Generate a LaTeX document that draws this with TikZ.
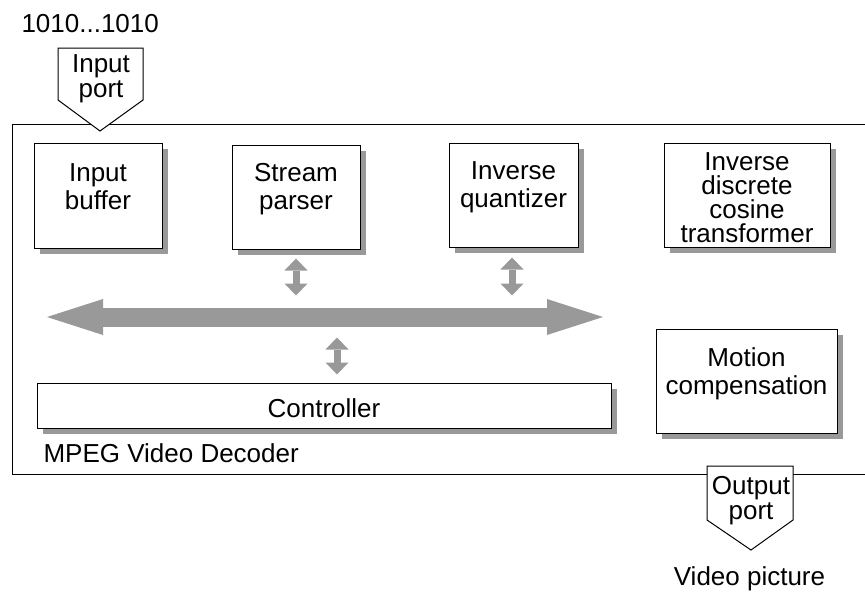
\documentclass[tikz,border=0pt]{standalone}
\usepackage{fontspec}
\setmainfont{Liberation Sans}
\usetikzlibrary{shadows,arrows.meta}
\definecolor{busgray}{RGB}{153,153,153}

\begin{document}
\begin{tikzpicture}[x=1pt,y=-1pt,line width=1pt,
  lbl/.style={align=center,inner sep=0pt,font=\fontsize{26}{28}\selectfont},
  unit/.style={draw,fill=white,inner sep=0pt,
    drop shadow={shadow xshift=6pt,shadow yshift=-6pt,fill=busgray,opacity=1}},
  port/.style={draw,fill=white},
  bus/.style={busgray,line width=19pt,
    {Triangle[width=36pt,length=56pt,line width=0pt]}-{Triangle[width=36pt,length=56pt,line width=0pt]}},
  link/.style={busgray,line width=7pt,
    {Triangle[width=23pt,length=12pt,line width=0pt]}-{Triangle[width=23pt,length=12pt,line width=0pt]}}]
\useasboundingbox (0,0) rectangle (865,592);
% decoder frame, open at the right
\draw (866,124) -- (12,124) -- (12,474) -- (866,474);
\node[unit,minimum width=128pt,minimum height=105pt,
  label={[lbl,yshift=9pt]center:{Input\\buffer}}] (buf) at (98,195.5) {};
\node[unit,minimum width=128pt,minimum height=104pt,
  label={[lbl,yshift=8pt]center:{Stream\\parser}}] (sp) at (296,197) {};
\node[unit,minimum width=129pt,minimum height=104pt,
  label={[lbl,yshift=8pt]center:{Inverse\\quantizer}}] (iq) at (513.5,195) {};
\node[unit,minimum width=166pt,minimum height=104pt,
  label={[lbl,yshift=-3pt,font=\fontsize{26}{24}\selectfont]center:{Inverse\\discrete\\cosine\\transformer}}] (idct) at (747,195) {};
\node[unit,minimum width=181pt,minimum height=104pt,
  label={[lbl,yshift=7pt]center:{Motion\\compensation}}] (mc) at (746.5,381) {};
\node[unit,minimum width=574pt,minimum height=45pt,
  label={[lbl,yshift=-3pt]center:Controller}] (ctrl) at (324,405.5) {};
% internal bus
\coordinate (bus-l) at (47,317);
\coordinate (bus-r) at (603,317);
\draw[bus] (bus-l) -- (bus-r);
\draw[link] ([yshift=-9pt]sp.south) -- ++(0,37);
\draw[link] ([xshift=-1.5pt,yshift=-10pt]iq.south) -- ++(0,38);
\draw[link] ([xshift=13pt,yshift=8pt]ctrl.north) -- ++(0,-37);
% ports
\draw[port] (58,48) -- (143,48) -- (143,100) -- (100,131) -- (58,100) -- cycle;
\node[lbl,font=\fontsize{26}{25}\selectfont] (inport) at (101,78.5) {Input\\port};
\draw[port] (707,466) -- (793,466) -- (793,520) -- (751,550) -- (707,520) -- cycle;
\node[lbl,font=\fontsize{26}{25}\selectfont] (outport) at (751,501) {Output\\port};
% texts
\node[lbl,anchor=base west] (bits) at (21,32) {1010...1010};
\node[lbl,anchor=base west] (title) at (43,462) {MPEG Video Decoder};
\node[lbl,anchor=base] (video) at (749.5,585) {Video picture};
\end{tikzpicture}
\end{document}
